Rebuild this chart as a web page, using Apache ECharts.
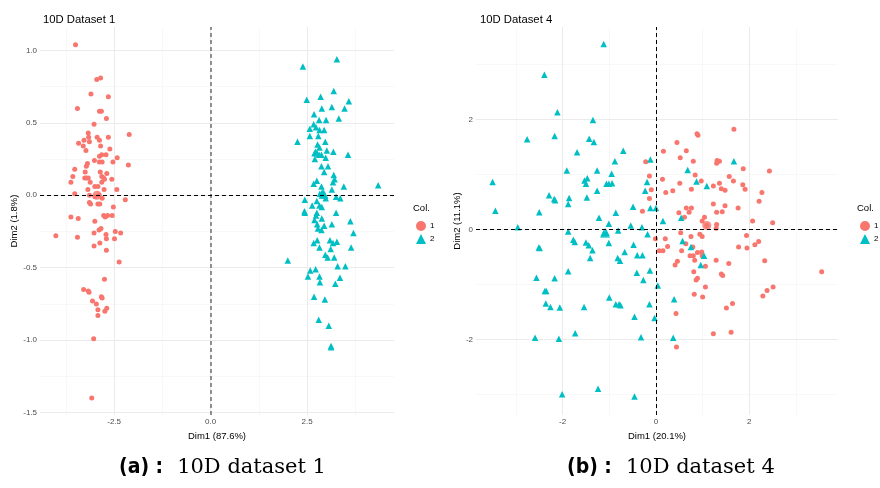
<!DOCTYPE html>
<html>
<head>
<meta charset="utf-8">
<script src="https://cdn.jsdelivr.net/npm/echarts@6/dist/echarts.min.js"></script>
<style>
  html, body { margin: 0; padding: 0; background: #fff; }
  #main { width: 880px; height: 488px; }
</style>
</head>
<body>
<div id="main"></div>
<script>
// 10D Dataset 1 : group 1 (red circles) and group 2 (cyan triangles), [Dim1, Dim2]
var ds1Group1 = [
  [-2.95,0.80],[-2.85,0.81],[-3.10,0.70],[-2.65,0.68],[-3.45,0.60],[-2.88,0.58],[-2.83,0.58],[-2.70,0.53],
  [-3.02,0.49],[-3.17,0.43],[-2.94,0.40],[-3.16,0.40],[-2.11,0.42],[-2.65,0.40],[-3.28,0.38],[-2.88,0.38],
  [-3.42,0.36],[-3.14,0.37],[-3.30,0.34],[-2.85,0.34],[-3.23,0.31],[-2.61,0.32],[-2.82,0.28],[-2.88,0.27],
  [-2.71,0.28],[-2.42,0.26],[-3.01,0.24],[-2.88,0.23],[-2.81,0.23],[-2.53,0.23],[-3.19,0.22],[-2.13,0.21],
  [-3.22,0.20],[-3.52,0.18],[-2.86,0.16],[-2.69,0.15],[-3.25,0.16],[-3.22,0.12],[-3.17,0.12],[-3.26,0.12],
  [-3.57,0.13],[-2.77,0.12],[-2.82,0.13],[-2.75,0.11],[-2.56,0.11],[-2.82,0.09],[-3.12,0.09],[-3.62,0.09],
  [-2.92,0.06],[-3.00,0.06],[-2.76,0.04],[-3.18,0.04],[-2.43,0.04],[-3.52,0.01],[-3.14,0.00],[-2.89,0.00],
  [-3.00,-0.01],[-2.81,-0.02],[-2.21,-0.03],[-3.14,-0.05],[-3.11,-0.06],[-2.92,-0.06],[-2.87,-0.06],[-2.52,-0.08],
  [-2.77,-0.14],[-2.73,-0.15],[-2.67,-0.14],[-2.55,-0.14],[-3.62,-0.15],[-3.43,-0.16],[-3.00,-0.18],[-2.84,-0.23],
  [-2.89,-0.24],[-3.02,-0.26],[-2.47,-0.25],[-2.33,-0.26],[-2.71,-0.27],[-4.01,-0.28],[-3.45,-0.29],[-2.70,-0.30],
  [-2.49,-0.30],[-2.87,-0.33],[-3.02,-0.35],[-2.70,-0.38],[-2.37,-0.46],[-2.75,-0.58],[-3.29,-0.65],[-3.17,-0.66],
  [-3.15,-0.67],[-2.83,-0.70],[-2.81,-0.71],[-3.06,-0.73],[-2.96,-0.75],[-2.92,-0.79],[-2.69,-0.78],[-2.74,-0.80],
  [-2.92,-0.83],[-3.03,-0.99],[-3.50,1.04],[-3.08,-1.40]
];
var ds1Group2 = [
  [3.27,0.94],[2.39,0.89],[3.19,0.72],[2.49,0.66],[2.85,0.68],[3.58,0.65],[3.14,0.61],[2.88,0.60],
  [3.47,0.60],[2.68,0.56],[3.32,0.53],[2.81,0.52],[2.99,0.52],[2.67,0.49],[2.57,0.46],[2.73,0.47],
  [2.82,0.45],[2.94,0.45],[2.57,0.41],[2.79,0.41],[2.25,0.37],[2.97,0.37],[2.77,0.35],[2.82,0.33],
  [3.01,0.31],[3.18,0.30],[2.72,0.30],[2.69,0.29],[2.76,0.29],[2.81,0.28],[2.87,0.28],[3.56,0.28],
  [2.98,0.26],[2.70,0.25],[2.87,0.20],[3.04,0.20],[2.94,0.16],[3.19,0.14],[3.21,0.11],[3.17,0.09],
  [2.75,0.10],[2.67,0.08],[3.45,0.06],[4.34,0.07],[2.87,0.06],[3.14,0.04],[2.89,0.02],[2.93,0.01],
  [2.83,0.01],[2.96,0.00],[2.90,0.00],[3.25,-0.01],[2.98,-0.02],[3.36,-0.02],[2.44,-0.03],[2.63,-0.07],
  [2.82,-0.07],[2.88,-0.08],[2.75,-0.04],[2.43,-0.11],[2.44,-0.12],[2.75,-0.12],[3.25,-0.12],[2.73,-0.14],
  [2.69,-0.17],[2.88,-0.16],[2.76,-0.20],[3.14,-0.20],[3.62,-0.18],[2.94,-0.21],[2.78,-0.23],[2.87,-0.24],
  [3.70,-0.26],[2.76,-0.31],[2.67,-0.33],[3.09,-0.31],[3.17,-0.33],[3.27,-0.32],[2.82,-0.36],[3.11,-0.37],
  [3.64,-0.36],[2.00,-0.45],[2.97,-0.41],[3.03,-0.43],[3.20,-0.43],[3.29,-0.49],[3.49,-0.49],[2.58,-0.52],
  [2.72,-0.51],[2.82,-0.56],[2.52,-0.56],[3.35,-0.57],[2.83,-0.60],[3.23,-0.61],[2.68,-0.70],[2.96,-0.72],
  [2.80,-0.86],[3.06,-0.90],[3.12,-1.04],[3.12,-1.05]
];
var ds1Centers = [[-2.94, 0.00], [2.92, 0.01]];

// 10D Dataset 4
var ds4Group1 = [
  [1.67,1.82],[0.88,1.74],[0.90,1.71],[0.45,1.58],[0.16,1.42],[0.65,1.43],[0.52,1.30],[0.80,1.24],
  [1.31,1.25],[1.36,1.24],[1.30,1.20],[-0.22,1.23],[1.87,1.10],[2.43,1.06],[-0.14,0.97],[0.84,0.99],
  [0.14,0.91],[0.97,0.88],[0.51,0.84],[1.36,0.84],[1.57,0.96],[1.66,0.88],[1.23,0.79],[1.40,0.74],
  [1.48,0.71],[1.86,0.81],[1.91,0.73],[2.27,0.67],[0.76,0.73],[0.36,0.70],[0.21,0.67],[-0.10,0.72],
  [-0.14,0.56],[2.21,0.51],[-0.29,0.33],[0.65,0.39],[0.76,0.39],[0.71,0.31],[0.49,0.30],[0.61,0.22],
  [1.23,0.46],[1.48,0.43],[1.30,0.31],[1.42,0.32],[1.76,0.39],[1.04,0.22],[0.99,0.15],[1.09,0.07],
  [1.30,0.09],[1.29,0.02],[2.07,0.15],[2.50,0.12],[-0.01,-0.17],[0.20,-0.17],[0.53,-0.06],[0.75,-0.13],
  [0.94,-0.09],[0.99,-0.13],[1.94,-0.11],[0.25,-0.31],[0.07,-0.39],[0.15,-0.39],[0.55,-0.39],[0.64,-0.26],
  [0.73,-0.48],[0.79,-0.32],[0.89,-0.42],[0.80,-0.48],[0.83,-0.56],[0.98,-0.41],[0.99,-0.48],[1.06,-0.67],
  [1.77,-0.32],[1.95,-0.34],[2.12,-0.28],[2.20,-0.22],[1.29,-0.56],[1.56,-0.62],[2.33,-0.57],[0.46,-0.58],
  [0.41,-0.65],[0.81,-0.77],[1.40,-0.81],[1.43,-0.84],[0.89,-0.89],[0.86,-0.92],[1.06,-1.05],[2.51,-1.05],
  [2.38,-1.11],[2.29,-1.21],[0.82,-1.18],[1.00,-1.23],[1.64,-1.35],[1.51,-1.43],[0.43,-1.53],[1.23,-1.90],
  [1.61,-1.87],[0.44,-2.14],[3.55,-0.77]
];
var ds4Group2 = [
  [-1.35,1.99],[-1.43,1.65],[-1.33,1.59],[-1.69,1.40],[-0.70,1.43],[-0.88,1.24],[-0.12,1.27],[1.67,1.24],
  [-1.91,1.07],[-1.26,1.07],[-0.95,1.01],[0.68,1.08],[-1.53,0.89],[-1.47,0.93],[-1.50,0.83],[-1.06,0.83],
  [-1.01,0.83],[-0.94,0.84],[-0.19,0.86],[0.87,0.87],[1.09,0.79],[-1.26,0.70],[-0.23,0.70],[-1.86,0.57],
  [-1.48,0.58],[-1.88,0.46],[-0.49,0.41],[-0.12,0.39],[0.00,0.39],[-0.86,0.30],[-1.22,0.21],[0.54,0.21],
  [-1.01,0.10],[0.15,0.15],[-0.54,0.07],[-0.30,0.04],[-1.06,-0.06],[-1.12,-0.07],[-0.81,-0.02],[-1.88,-0.04],
  [-0.18,-0.09],[-1.77,-0.19],[-1.74,-0.23],[-1.50,-0.24],[-1.44,-0.29],[-1.01,-0.25],[-0.48,-0.28],[-1.36,-0.38],
  [-0.67,-0.41],[0.57,-0.21],[0.75,-0.32],[-1.41,-0.52],[-0.82,-0.52],[-0.77,-0.57],[-0.40,-0.47],[-0.29,-0.47],
  [1.03,-0.48],[0.96,-0.65],[-1.88,-0.76],[-0.41,-0.79],[-0.13,-0.75],[-0.27,-0.92],[0.04,-1.02],[-1.00,-1.24],
  [-0.86,-1.36],[-0.79,-1.36],[-0.76,-1.38],[-0.14,-1.36],[0.39,-1.27],[-1.54,-1.41],[-2.06,-1.42],[-0.46,-1.59],
  [-0.03,-1.61],[-1.73,-1.89],[-0.32,-1.96],[0.37,-1.97],[-2.08,-1.99],[-1.12,3.37],[-2.39,2.81],[-2.11,2.13],
  [-2.76,1.64],[-2.17,1.70],[-3.50,0.86],[-2.29,0.62],[-2.18,0.55],[-2.16,0.53],[-3.44,0.34],[-2.50,0.31],
  [-2.96,0.04],[-2.51,-0.33],[-2.49,-0.34],[-2.56,-0.88],[-2.17,-0.89],[-2.38,-1.12],[-2.35,-1.12],[-2.36,-1.35],
  [-2.26,-1.41],[-2.59,-1.97],[-2.01,-3.00],[-1.24,-2.90],[-0.46,-3.04]
];
var ds4Centers = [[1.09, 0.07], [-1.09, -0.06]];

// tick values (major) and minor grid values
var ds1XTicks = [-2.5, 0, 2.5], ds1XMinor = [-3.75, -1.25, 1.25, 3.75];
var ds1YTicks = [-1.5, -1, -0.5, 0, 0.5, 1], ds1YMinor = [-1.25, -0.75, -0.25, 0.25, 0.75];
var ds4XTicks = [-2, 0, 2], ds4XMinor = [-3, -1, 1, 3];
var ds4YTicks = [-2, 0, 2], ds4YMinor = [-3, -1, 1, 3];

var RED = '#F8766D', CYAN = '#00BFC4';

var myChart = echarts.init(document.getElementById('main'));

// grid lines drawn as mark lines on axis values
function gridLines(xMajor, xMinor, yMajor, yMinor) {
  var d = [];
  xMinor.forEach(function (v) { d.push({ xAxis: v, lineStyle: { color: '#F3F3F3', width: 0.6, type: 'solid' } }); });
  yMinor.forEach(function (v) { d.push({ yAxis: v, lineStyle: { color: '#F3F3F3', width: 0.6, type: 'solid' } }); });
  xMajor.forEach(function (v) { d.push({ xAxis: v, lineStyle: { color: '#EBEBEB', width: 1, type: 'solid' } }); });
  yMajor.forEach(function (v) { d.push({ yAxis: v, lineStyle: { color: '#EBEBEB', width: 1, type: 'solid' } }); });
  return d;
}

function xAxisFor(idx, min, max, ticks, name, dec) {
  return {
    gridIndex: idx, type: 'value', min: min, max: max,
    axisLine: { show: false }, splitLine: { show: false },
    axisTick: { show: true, length: 2.5, customValues: ticks, lineStyle: { color: '#333' } },
    axisLabel: { customValues: ticks, fontSize: 8, color: '#4D4D4D', margin: 3,
      fontFamily: 'Liberation Sans', formatter: function (v) { return v.toFixed(dec); } },
    name: name, nameLocation: 'middle', nameGap: 13,
    nameTextStyle: { fontSize: 9.5, color: '#000', fontFamily: 'Liberation Sans' }
  };
}
function yAxisFor(idx, min, max, ticks, name, dec, gap) {
  return {
    gridIndex: idx, type: 'value', min: min, max: max,
    axisLine: { show: false }, splitLine: { show: false },
    axisTick: { show: true, length: 2.5, customValues: ticks, lineStyle: { color: '#333' } },
    axisLabel: { customValues: ticks, fontSize: 8, color: '#4D4D4D', margin: 3,
      fontFamily: 'Liberation Sans', formatter: function (v) { return v.toFixed(dec); } },
    name: name, nameLocation: 'middle', nameGap: gap, nameRotate: 90,
    nameTextStyle: { fontSize: 9.5, color: '#000', fontFamily: 'Liberation Sans' }
  };
}

function panelSeries(idx, g1, g2, centers, grid, zeroColor, zeroWidth) {
  return [
    { type: 'scatter', xAxisIndex: idx, yAxisIndex: idx, data: [], silent: true,
      markLine: { silent: true, symbol: 'none', label: { show: false }, animation: false, z: 1, data: grid } },
    { name: '1', type: 'scatter', xAxisIndex: idx, yAxisIndex: idx, data: g1,
      symbol: 'circle', symbolSize: 5, itemStyle: { color: RED, opacity: 1 }, z: 3 },
    { name: '2', type: 'scatter', xAxisIndex: idx, yAxisIndex: idx, data: g2,
      symbol: 'triangle', symbolSize: 6.5, itemStyle: { color: CYAN, opacity: 1 }, z: 3 },
    { name: 'mean1', type: 'scatter', xAxisIndex: idx, yAxisIndex: idx, data: [centers[0]],
      symbol: 'circle', symbolSize: 9, itemStyle: { color: RED }, z: 4 },
    { name: 'mean2', type: 'scatter', xAxisIndex: idx, yAxisIndex: idx, data: [centers[1]],
      symbol: 'triangle', symbolSize: 10, itemStyle: { color: CYAN }, z: 4 },
    { type: 'scatter', xAxisIndex: idx, yAxisIndex: idx, data: [], silent: true,
      markLine: { silent: true, symbol: 'none', label: { show: false }, animation: false, z: 5,
        data: [
          { xAxis: 0, lineStyle: { color: zeroColor, width: zeroWidth, type: [4, 3] } },
          { yAxis: 0, lineStyle: { color: '#000', width: 1, type: [4, 3] } }
        ] } }
  ];
}

var captionRich = {
  a: { fontSize: 21, fontWeight: 'bold', fontFamily: 'DejaVu Sans Condensed, DejaVu Sans', color: '#000' },
  b: { fontSize: 21, fontWeight: 'normal', fontFamily: 'DejaVu Serif', color: '#000', padding: [0, 0, 0, 9] }
};

var option = {
  animation: false,
  title: [
    { text: '10D Dataset 1', left: 38, top: 9, textStyle: { fontSize: 11.3, fontWeight: 'normal', color: '#000', fontFamily: 'Liberation Sans' } },
    { text: '10D Dataset 4', left: 475, top: 9, textStyle: { fontSize: 11.3, fontWeight: 'normal', color: '#000', fontFamily: 'Liberation Sans' } },
    { text: 'Col.', left: 408, top: 198, textStyle: { fontSize: 9.5, fontWeight: 'normal', color: '#000', fontFamily: 'Liberation Sans' } },
    { text: 'Col.', left: 852, top: 198, textStyle: { fontSize: 9.5, fontWeight: 'normal', color: '#000', fontFamily: 'Liberation Sans' } },
    { text: '{a|(a) :} {b|10D dataset 1}', left: 114, top: 452, textStyle: { fontWeight: 'normal', rich: captionRich } },
    { text: '{a|(b) :} {b|10D dataset 4}', left: 562, top: 452, textStyle: { fontWeight: 'normal', rich: captionRich } }
  ],
  legend: [
    { data: ['1', '2'], orient: 'vertical', left: 411, top: 216, itemWidth: 10, itemHeight: 10, itemGap: 3,
      textStyle: { fontSize: 8, color: '#000', fontFamily: 'Liberation Sans', padding: [0, 0, 0, -1] }, selectedMode: false },
    { data: ['1', '2'], orient: 'vertical', left: 855, top: 216, itemWidth: 10, itemHeight: 10, itemGap: 3,
      textStyle: { fontSize: 8, color: '#000', fontFamily: 'Liberation Sans', padding: [0, 0, 0, -1] }, selectedMode: false }
  ],
  grid: [
    { left: 40, top: 27, width: 354, height: 388 },
    { left: 476, top: 27, width: 362, height: 388 }
  ],
  xAxis: [
    xAxisFor(0, -4.42, 4.75, ds1XTicks, 'Dim1 (87.6%)', 1),
    xAxisFor(1, -3.855, 3.9, ds4XTicks, 'Dim1 (20.1%)', 0)
  ],
  yAxis: [
    yAxisFor(0, -1.517, 1.162, ds1YTicks, 'Dim2 (1.8%)', 1, 21),
    yAxisFor(1, -3.376, 3.68, ds4YTicks, 'Dim2 (11.1%)', 0, 12)
  ],
  series: panelSeries(0, ds1Group1, ds1Group2, ds1Centers,
      gridLines(ds1XTicks, ds1XMinor, ds1YTicks, ds1YMinor), '#777', 1.6)
    .concat(panelSeries(1, ds4Group1, ds4Group2, ds4Centers,
      gridLines(ds4XTicks, ds4XMinor, ds4YTicks, ds4YMinor), '#000', 1))
};

myChart.setOption(option);
</script>
</body>
</html>
